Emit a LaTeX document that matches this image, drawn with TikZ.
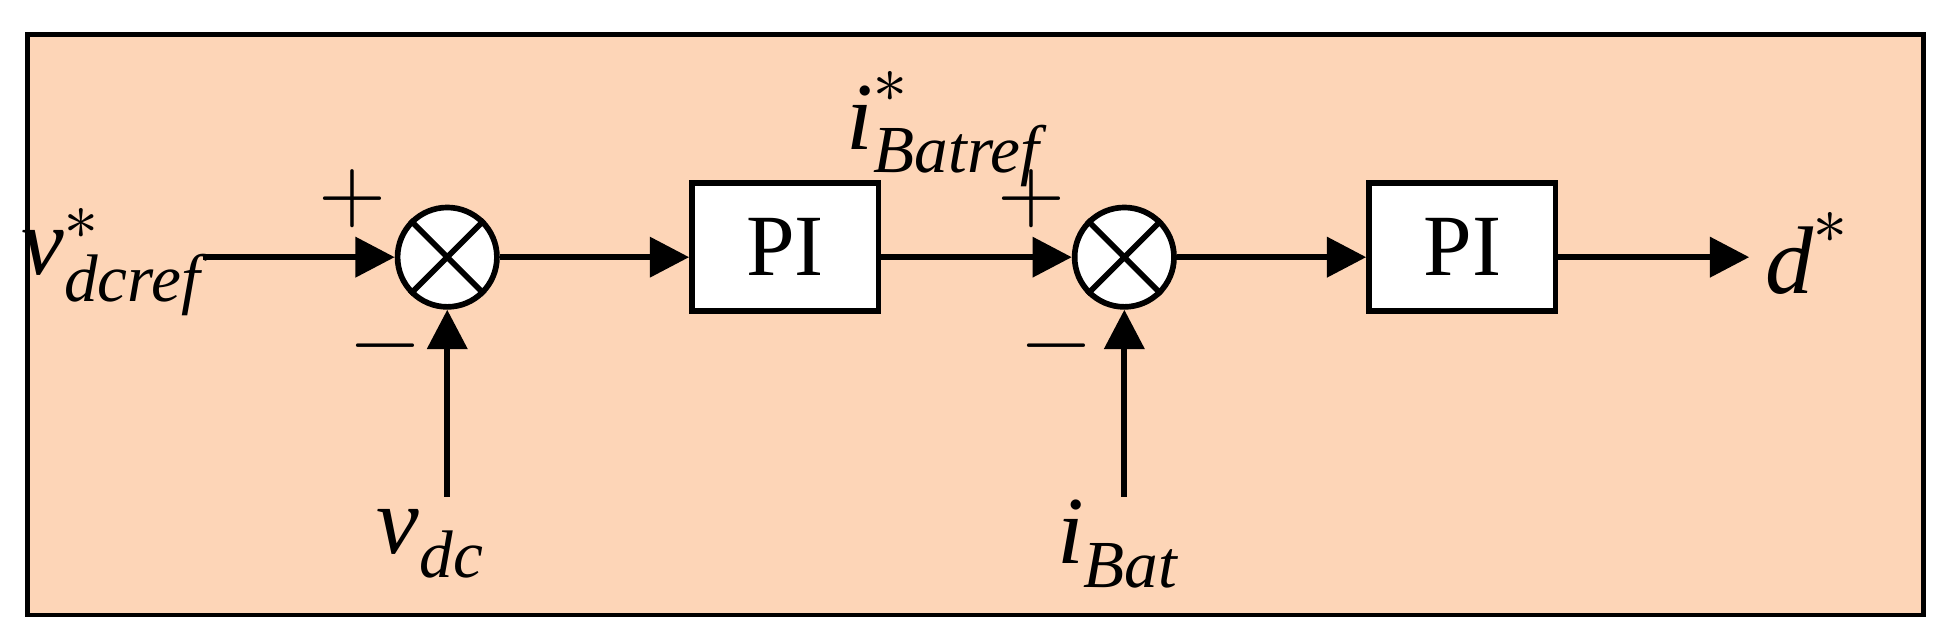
\documentclass[tikz,border=0pt]{standalone}
\usepackage{fontspec}
\setmainfont{Liberation Serif}
\usepackage{unicode-math}
\setmathfont{Latin Modern Math}
\usetikzlibrary{arrows.meta}
\definecolor{peach}{HTML}{FDD5B7}
\newcommand{\ti}[1]{\textit{#1}}
\begin{document}
\begin{tikzpicture}[
  blk/.style={draw,line width=1.3pt,fill=white,minimum width=1.5cm,minimum height=1.03cm,font=\fontsize{20}{24}\selectfont},
  sum/.style={draw,line width=1.3pt,fill=white,circle,minimum size=0.8cm,inner sep=0pt},
  sig/.style={line width=1.4pt,-{Triangle[length=9pt,width=9pt]}},
  lbl/.style={font=\fontsize{22}{26}\selectfont,inner sep=0pt},
  sgn/.style={font=\fontsize{20}{24}\selectfont,inner sep=0pt}]
\useasboundingbox (0,0) rectangle (15.68,5.16);
\draw[line width=1.1pt,fill=peach] (0.22,0.21) rectangle (15.48,4.88);
\node[sum] (s1) at (3.60,3.09) {};
\draw[line width=1.3pt] (s1.north west)--(s1.south east) (s1.north east)--(s1.south west);
\node[blk] (p1) at (6.32,3.17) {PI};
\node[sum] (s2) at (9.05,3.09) {};
\draw[line width=1.3pt] (s2.north west)--(s2.south east) (s2.north east)--(s2.south west);
\node[blk] (p2) at (11.77,3.17) {PI};
\coordinate (in) at (1.63,3.09);
\coordinate (out) at (14.08,3.09);
\coordinate (b1) at (3.60,1.16);
\coordinate (b2) at (9.05,1.16);
\node[lbl] (lin) at (0.90,3.05) {$\ti{v}^{*}_{\ti{dcref}}$};
\node[lbl] (lvdc) at (3.47,0.78) {$\ti{v}_{\ti{dc}}$};
\node[lbl] (libat) at (9.00,0.78) {$\ti{i}_{\ti{Bat}}$};
\node[lbl] (liref) at (7.60,4.12) {$\ti{i}^{*}_{\ti{Batref}}$};
\node[lbl] (ld) at (14.55,3.12) {$\ti{d}^{*}$};
\node[sgn] (pl1) at (2.84,3.56) {$+$};
\node[sgn] (mi1) at (3.10,2.30) {$-$};
\node[sgn] (pl2) at (8.30,3.56) {$+$};
\node[sgn] (mi2) at (8.50,2.30) {$-$};
\draw[sig] (in) -- (s1.west);
\draw[sig] (s1.east) -- (p1.west |- s1.east);
\draw[sig] (p1.east |- s2.west) -- (s2.west);
\draw[sig] (s2.east) -- (p2.west |- s2.east);
\draw[sig] (p2.east |- out) -- (out);
\draw[sig] (b1) -- (s1.south);
\draw[sig] (b2) -- (s2.south);
\end{tikzpicture}
\end{document}
